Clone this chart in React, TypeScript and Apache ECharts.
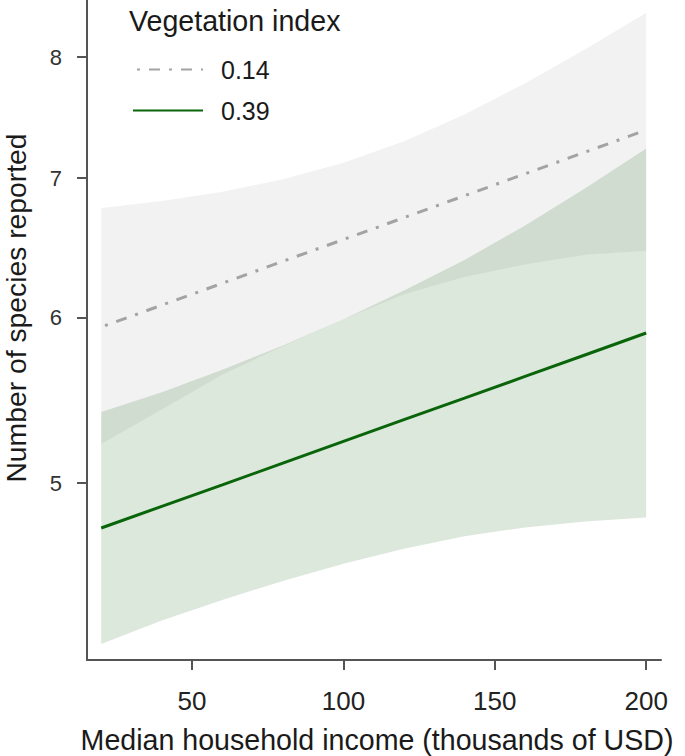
import React, { useEffect, useRef } from 'react';
import * as echarts from 'echarts';

// ---- data ----
const income = [20, 40, 60, 80, 100, 120, 140, 160, 180, 200];
const fit014 = [5.939, 6.084, 6.233, 6.386, 6.541, 6.701, 6.865, 7.033, 7.205, 7.381];
const upper014 = [6.772, 6.826, 6.896, 6.991, 7.119, 7.291, 7.509, 7.772, 8.071, 8.402];
const lower014 = [5.22, 5.423, 5.634, 5.815, 5.99, 6.158, 6.276, 6.364, 6.432, 6.46];
const fit039 = [4.758, 4.873, 4.99, 5.111, 5.235, 5.362, 5.491, 5.624, 5.76, 5.9];
const upper039 = [5.408, 5.527, 5.666, 5.82, 5.991, 6.183, 6.395, 6.643, 6.924, 7.232];
const lower039 = [4.186, 4.296, 4.395, 4.488, 4.574, 4.65, 4.715, 4.761, 4.792, 4.814];
const seriesNames = ['0.14', '0.39'];
const yTicks = [5, 6, 7, 8];
const xTicks = [50, 100, 150, 200];

const FONT = "'Liberation Sans', Arial, Helvetica, sans-serif";
const LN = Math.log;

function bandSeries(name: string, lo: number[], hi: number[], fill: string) {
  return {
    type: 'custom',
    name,
    silent: true,
    data: income.map((x, i) => [x, LN(lo[i]), LN(hi[i])]),
    encode: { x: 0, y: [1, 2] },
    renderItem: (params: any, api: any) => {
      if (params.dataIndex !== 0) return null;
      const pts: number[][] = [];
      income.forEach((x, i) => pts.push(api.coord([x, LN(hi[i])])));
      for (let i = income.length - 1; i >= 0; i--) pts.push(api.coord([income[i], LN(lo[i])]));
      return { type: 'polygon', shape: { points: pts }, style: { fill, stroke: 'none' } };
    },
    z: 1,
  };
}

export default function App() {
  const ref = useRef<HTMLDivElement>(null);
  useEffect(() => {
    const chart = echarts.init(ref.current!, null, { renderer: 'svg' });
    const option: any = {
      animation: false,
      backgroundColor: '#ffffff',
      grid: { left: 87, right: 24, top: 0, bottom: 96, containLabel: false },
      xAxis: {
        type: 'value',
        min: 15.3,
        max: 204.9,
        axisLine: { show: true, lineStyle: { color: '#555555', width: 2 } },
        axisTick: { show: true, customValues: xTicks, length: 10, lineStyle: { color: '#555555', width: 2 } },
        axisLabel: { customValues: xTicks, fontSize: 26, color: '#222222', fontFamily: FONT, margin: 28 },
        splitLine: { show: false },
      },
      yAxis: {
        type: 'value',
        min: LN(4.113),
        max: LN(8.52),
        axisLine: { show: true, lineStyle: { color: '#555555', width: 2 } },
        axisTick: { show: true, customValues: yTicks.map(LN), length: 10, lineStyle: { color: '#555555', width: 2 } },
        axisLabel: {
          customValues: yTicks.map(LN),
          formatter: (v: number) => String(Math.round(Math.exp(v))),
          fontSize: 22,
          color: '#333333',
          fontFamily: FONT,
          margin: 25,
        },
        splitLine: { show: false },
      },
      legend: {
        orient: 'vertical',
        left: 132,
        top: 57,
        padding: 0,
        itemWidth: 70,
        itemHeight: 25,
        itemGap: 16,
        selectedMode: false,
        data: seriesNames,
        itemStyle: { opacity: 0 },
        textStyle: { fontSize: 25, color: '#1a1a1a', fontFamily: FONT, padding: [0, 0, 0, 13] },
      },
      graphic: [
        {
          type: 'text',
          x: 129,
          y: 21,
          style: { text: 'Vegetation index', fontSize: 28.6, fontFamily: FONT, fill: '#1a1a1a', align: 'left', verticalAlign: 'middle' },
        },
        {
          type: 'text',
          x: 377,
          y: 740,
          style: { text: 'Median household income (thousands of USD)', fontSize: 28.6, fontFamily: FONT, fill: '#1a1a1a', align: 'center', verticalAlign: 'middle' },
        },
        {
          type: 'text',
          x: 15.5,
          y: 308,
          rotation: Math.PI / 2,
          style: { text: 'Number of species reported', fontSize: 28.3, fontFamily: FONT, fill: '#1a1a1a', align: 'center', verticalAlign: 'middle' },
        },
      ],
      series: [
        bandSeries('band014', lower014, upper014, 'rgba(0,0,0,0.05)'),
        bandSeries('band039', lower039, upper039, 'rgba(0,87,0,0.137)'),
        {
          type: 'line',
          name: seriesNames[0],
          data: income.map((x, i) => [x, LN(fit014[i])]),
          symbol: 'none',
          color: '#a3a3a3',
          lineStyle: { color: '#a3a3a3', width: 3, type: [11, 9, 3, 9], dashOffset: 16 },
          z: 3,
        },
        {
          type: 'line',
          name: seriesNames[1],
          data: income.map((x, i) => [x, LN(fit039[i])]),
          symbol: 'none',
          color: '#0a650a',
          lineStyle: { color: '#0a650a', width: 3 },
          z: 3,
        },
      ],
    };
    chart.setOption(option);
    return () => chart.dispose();
  }, []);
  return (
    <div
      ref={ref}
      style={{ position: 'absolute', left: 0, top: 0, width: 685, height: 756, background: '#ffffff' }}
    />
  );
}
